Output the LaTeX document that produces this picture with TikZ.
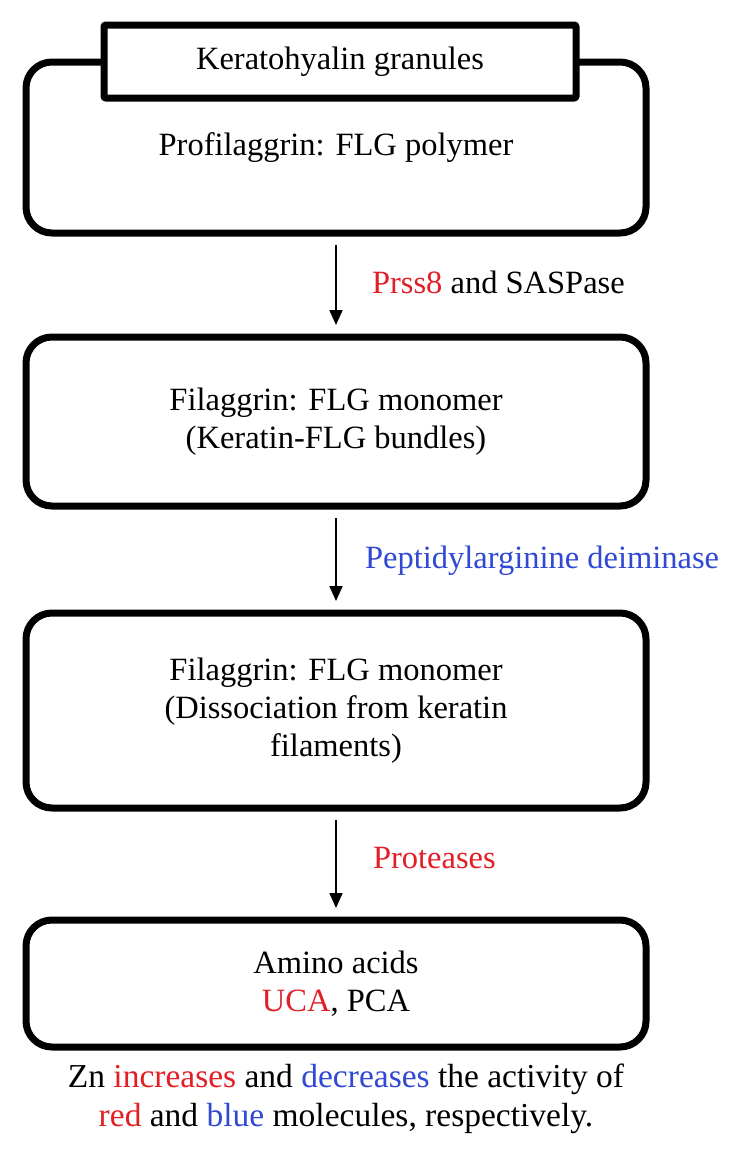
\documentclass[tikz,border=0pt]{standalone}
\usepackage{fontspec}
\setmainfont{Liberation Serif}
\usetikzlibrary{arrows.meta}
\definecolor{fred}{RGB}{226,30,38}
\definecolor{fblue}{RGB}{48,72,212}
\begin{document}
\begin{tikzpicture}[x=1pt,y=-1pt,
  every node/.style={font=\fontsize{32.5}{38}\selectfont, inner sep=0pt, outer sep=0pt},
  stagebox/.style={draw, line width=7pt, rounded corners=26pt, minimum width=620pt, align=center},
  titlebox/.style={draw, line width=7pt, rounded corners=2pt, fill=white, minimum width=472pt, minimum height=73pt},
  flow/.style={line width=2pt, -{Triangle[length=15pt,width=13pt]}, shorten <=12pt, shorten >=12pt},
  enzyme/.style={anchor=base west}]
\useasboundingbox (0,0) rectangle (747,1157);
\fill[white] (0,0) rectangle (747,1157);

\node[stagebox, minimum height=171pt] (box1) at (336,147.5) {Profilaggrin: FLG polymer};
\node[titlebox] (title) at (340,61.5) {Keratohyalin granules};
\node[stagebox, minimum height=169pt] (box2) at (336,421.5) {Filaggrin: FLG monomer\\(Keratin-FLG bundles)};
\node[stagebox, minimum height=195pt] (box3) at (336,710.5) {Filaggrin: FLG monomer\\(Dissociation from keratin\\filaments)};
\node[stagebox, minimum height=127pt] (box4) at (336,983.5) {Amino acids\\\textcolor{fred}{UCA}, PCA};

\draw[flow] (box1) -- (box2);
\draw[flow] (box2) -- (box3);
\draw[flow] (box3) -- (box4);

\node[enzyme] (e1) at (372,293) {\textcolor{fred}{Prss8} and SASPase};
\node[enzyme, text=fblue] (e2) at (365,568) {Peptidylarginine deiminase};
\node[enzyme, text=fred] (e3) at (373,868) {Proteases};

\node[align=center, font=\fontsize{33.5}{39}\selectfont] (note) at (346,1099) {Zn \textcolor{fred}{increases} and \textcolor{fblue}{decreases} the activity of\\\textcolor{fred}{red} and \textcolor{fblue}{blue} molecules, respectively.};
\end{tikzpicture}
\end{document}
